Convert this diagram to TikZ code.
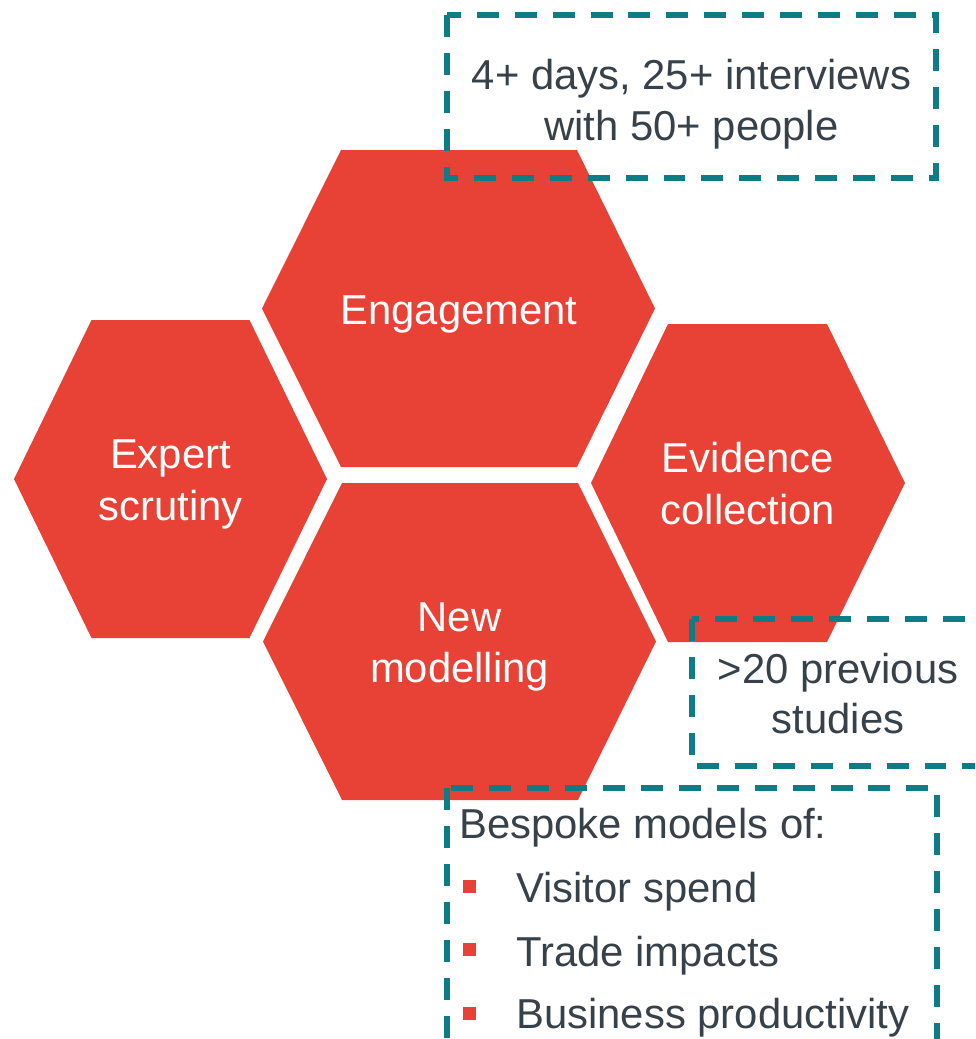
\documentclass[tikz,border=0pt]{standalone}
\usepackage{fontspec}
\setmainfont{Liberation Sans}
\definecolor{hexred}{RGB}{232,65,54}
\definecolor{boxteal}{RGB}{14,124,132}
\definecolor{inkgrey}{RGB}{55,65,74}
\begin{document}
\begin{tikzpicture}[x=0.02cm,y=-0.02cm,
  hexfill/.style={fill=hexred,draw=none},
  hextext/.style={text=white,font=\fontsize{23.8pt}{28.9pt}\selectfont,anchor=base,inner sep=0pt},
  notebox/.style={draw=boxteal,line width=3.1pt,dash pattern=on 12.5pt off 9.1pt},
  notetext/.style={text=inkgrey,font=\fontsize{23.8pt}{28.9pt}\selectfont,anchor=base,inner sep=0pt},
  bulletsq/.style={fill=hexred,draw=none,inner sep=0pt,minimum size=0.26cm}]
\useasboundingbox (0,0) rectangle (975,1039);
\clip (0,0) rectangle (975,1039);

% honeycomb cells
\fill[hexfill] (341,150) -- (577,150) -- (655,308.5) -- (577,467) -- (341,467) -- (262,308.5) -- cycle;
\fill[hexfill] (342,483) -- (578,483) -- (656,641.5) -- (578,800) -- (342,800) -- (263,641.5) -- cycle;
\fill[hexfill] (91.5,320) -- (249.5,320) -- (327,479) -- (249.5,638) -- (91.5,638) -- (14,479) -- cycle;
\fill[hexfill] (668,324) -- (827,324) -- (905,483) -- (827,642) -- (668,642) -- (591,483) -- cycle;

% dashed call-out frames
\draw[notebox] (447,15) rectangle (936,178);
\draw[notebox] (692,619) rectangle (985,766);
\draw[notebox] (447,788) rectangle (937,1070);

% cell labels
\node[hextext] (eng) at (459,324.5) {Engagement};
\node[hextext] (exp1) at (170.5,468.5) {Expert};
\node[hextext] (exp2) at (170.5,520) {scrutiny};
\node[hextext] (evi1) at (748,472) {Evidence};
\node[hextext] (evi2) at (748,524) {collection};
\node[hextext] (mod1) at (459.5,631) {New};
\node[hextext] (mod2) at (459.5,682.5) {modelling};

% call-out texts
\node[notetext] (days1) at (691.5,89) {4+ days, 25+ interviews};
\node[notetext] (days2) at (691.5,140.5) {with 50+ people};
\node[notetext] (prev1) at (838,683) {>20 previous};
\node[notetext] (prev2) at (838,733) {studies};
\node[notetext,anchor=base west] (besp) at (459,838) {Bespoke models of:};
\node[bulletsq] (b1) at (469.5,886.5) {};
\node[bulletsq] (b2) at (469.5,949.5) {};
\node[bulletsq] (b3) at (469.5,1013.5) {};
\node[notetext,anchor=base west] (it1) at (516,902) {Visitor spend};
\node[notetext,anchor=base west] (it2) at (516,966) {Trade impacts};
\node[notetext,anchor=base west] (it3) at (516,1028.5) {Business productivity};
\end{tikzpicture}
\end{document}
